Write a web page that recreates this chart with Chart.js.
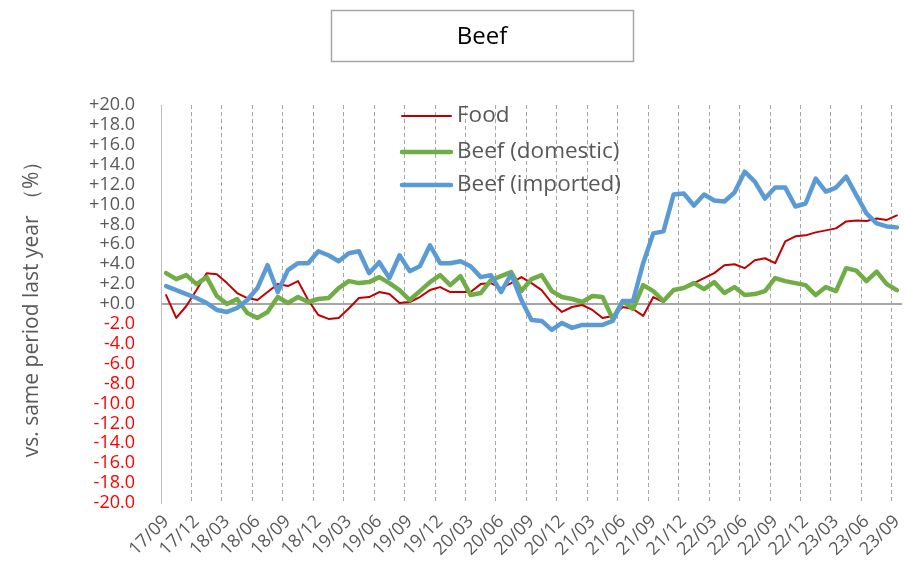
<!DOCTYPE html>
<html><head><meta charset="utf-8">
<script src="https://cdn.jsdelivr.net/npm/chart.js@4"></script>
<style>html,body{margin:0;padding:0;background:#fff;} #wrap{width:904px;height:586px;position:relative}</style>
</head><body><div id="wrap"><canvas id="c" width="904" height="586"></canvas></div>
<script>
const categories = [
 '17/09','17/10','17/11','17/12','18/01','18/02','18/03','18/04','18/05','18/06','18/07','18/08',
 '18/09','18/10','18/11','18/12','19/01','19/02','19/03','19/04','19/05','19/06','19/07','19/08',
 '19/09','19/10','19/11','19/12','20/01','20/02','20/03','20/04','20/05','20/06','20/07','20/08',
 '20/09','20/10','20/11','20/12','21/01','21/02','21/03','21/04','21/05','21/06','21/07','21/08',
 '21/09','21/10','21/11','21/12','22/01','22/02','22/03','22/04','22/05','22/06','22/07','22/08',
 '22/09','22/10','22/11','22/12','23/01','23/02','23/03','23/04','23/05','23/06','23/07','23/08',
 '23/09'];
const food = [0.9,-1.4,-0.2,1.4,3.1,3.0,2.1,1.1,0.6,0.4, 1.2,2.0,1.8,2.3,0.4,-1.1,-1.5,-1.4,-0.45,0.6,
 0.7,1.2,1.0,0.1,0.2,0.7,1.4,1.7,1.2,1.2, 1.2,2.0,2.1,1.6,2.1,2.7,2.1,1.4,0.1,-0.8,
 -0.3,-0.1,-0.6,-1.4,-1.2,-0.3,-0.5,-1.2,0.7,0.2, 1.4,1.7,2.1,2.6,3.1,3.9,4.0,3.6,4.4,4.6,
 4.1,6.3,6.8,6.9,7.2,7.4,7.6,8.3,8.4,8.35, 8.6,8.45,8.9];
const beefDomestic = [3.1,2.5,2.9,2.0,2.7,0.8,0.0,0.5,-0.9,-1.4, -0.8,0.7,0.1,0.7,0.2,0.5,0.6,1.6,2.3,2.1,
 2.2,2.7,2.1,1.4,0.4,1.3,2.2,2.9,1.9,2.8, 0.9,1.1,2.4,2.8,3.2,1.3,2.5,2.9,1.3,0.7,
 0.5,0.2,0.8,0.7,-1.5,0.3,-0.5,1.9,1.3,0.3, 1.4,1.6,2.1,1.5,2.2,1.1,1.7,0.9,1.0,1.3,
 2.6,2.3,2.1,1.9,0.9,1.7,1.3,3.6,3.35,2.3, 3.25,2.0,1.4];
const beefImported = [1.8,1.4,1.0,0.6,0.1,-0.6,-0.8,-0.4,0.4,1.6, 3.9,1.2,3.4,4.1,4.1,5.3,4.9,4.3,5.1,5.3,
 3.1,4.2,2.6,4.9,3.3,3.8,5.9,4.1,4.1,4.3, 3.8,2.7,2.9,1.2,3.0,0.4,-1.6,-1.7,-2.6,-1.9,
 -2.4,-2.1,-2.1,-2.1,-1.7,0.3,0.3,4.1,7.1,7.3, 11.0,11.1,9.9,11.0,10.4,10.3,11.2,13.3,12.3,10.6,
 11.7,11.7,9.8,10.1,12.6,11.3,11.7,12.8,10.95,9.1, 8.1,7.8,7.7];
const seriesNames = ['Food','Beef (domestic)','Beef (imported)'];
const seriesColors = ['#C00000','#70AD47','#5B9BD5'];
const seriesWidths = [2,4.5,4.5];
const chartTitle = 'Beef';
const yAxisTitle = 'vs. same period last year （%）';
const FONT = '"Open Sans", "Noto Sans", sans-serif';

const deco = {
  id: 'deco',
  afterDraw(chart) {
    const ctx = chart.ctx;
    ctx.save();
    ctx.strokeStyle = '#A6A6A6'; ctx.lineWidth = 1.5;
    ctx.strokeRect(331.5, 10.5, 302, 51);
    ctx.fillStyle = '#000'; ctx.font = '24px ' + FONT;
    ctx.textAlign = 'center'; ctx.textBaseline = 'middle';
    ctx.fillText(chartTitle, 482, 37);
    const ys = [116, 152, 185];
    ctx.textAlign = 'left';
    ctx.font = '22.5px ' + FONT;
    for (let i = 0; i < 3; i++) {
      ctx.strokeStyle = seriesColors[i]; ctx.lineWidth = seriesWidths[i]; ctx.lineCap = 'round';
      ctx.beginPath(); ctx.moveTo(402, ys[i]); ctx.lineTo(451, ys[i]); ctx.stroke();
      ctx.fillStyle = '#595959';
      ctx.fillText(seriesNames[i], 457, ys[i]);
    }
    ctx.restore();
  }
};

new Chart(document.getElementById('c'), {
  type: 'line',
  data: {
    labels: categories,
    datasets: [food, beefDomestic, beefImported].map((d, i) => ({
      label: seriesNames[i], data: d, borderColor: seriesColors[i], backgroundColor: seriesColors[i],
      borderWidth: seriesWidths[i], order: 3 - i, fill: false
    }))
  },
  options: {
    responsive: false, animation: false,
    layout: { padding: { top: 105, right: 2, left: 0, bottom: 0 } },
    elements: { point: { radius: 0 }, line: { tension: 0, borderJoinStyle: 'round', borderCapStyle: 'round' } },
    plugins: { legend: { display: false }, tooltip: { enabled: false }, title: { display: false } },
    scales: {
      x: {
        offset: true,
        grid: { offset: true, drawTicks: false, lineWidth: 1,
          color: c => (c.tick && c.index % 3 === 0) ? '#A6A6A6' : 'rgba(0,0,0,0)' },
        border: { display: false, dash: [4, 3] },
        ticks: { autoSkip: false, maxRotation: 45, minRotation: 45, padding: 8, color: '#595959',
          font: { family: FONT, size: 18 },
          callback: function (v, i) { return i % 3 === 0 ? this.getLabelForValue(v) : ''; } },
        afterFit: s => { s.height = 83; s.paddingLeft = 0; s.paddingRight = 0; }
      },
      y: {
        min: -20, max: 20,
        ticks: { stepSize: 2, autoSkip: false, padding: 26, font: { family: FONT, size: 18 },
          color: c => (c.tick && c.tick.value < 0) ? '#FF0000' : '#595959',
          callback: v => (v >= 0 ? '+' : '') + Number(v).toFixed(1) },
        grid: { drawTicks: false, lineWidth: 2,
          color: c => (c.tick && c.tick.value === 0) ? '#A6A6A6' : 'rgba(0,0,0,0)' },
        border: { display: true, color: '#BFBFBF', width: 1 },
        title: { display: true, text: yAxisTitle, color: '#595959', font: { family: FONT, size: 21 }, padding: { top: 19, bottom: 0 } },
        afterFit: s => { s.width = 161; }
      }
    }
  },
  plugins: [deco]
});
</script></body></html>
